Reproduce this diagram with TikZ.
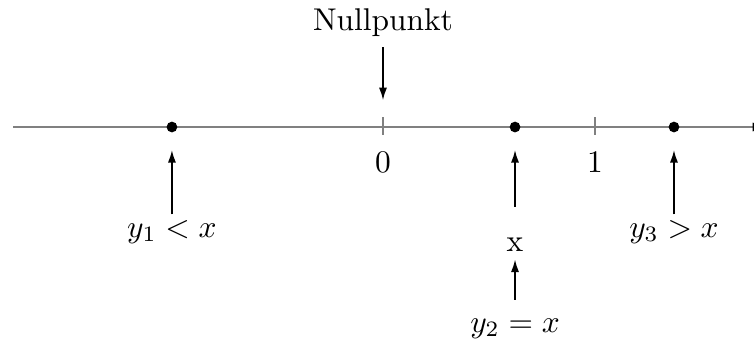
\documentclass[tikz,border=0pt]{standalone}
\usepackage{amsmath}
\usetikzlibrary{arrows.meta,positioning}

\begin{document}
\begin{tikzpicture}[>=Latex,
  axis/.style={draw=black!50,line width=0.6pt},
  ptr/.style={-{Latex[length=1.4mm,width=0.9mm]},line width=0.5pt},
  pt/.style={circle,fill=black,inner sep=0pt,minimum size=0.12cm}]
\useasboundingbox (-4.279,1.419) rectangle (4.145,-2.458);
% number line
\draw[axis,-{Latex[length=2mm,width=1mm,black]}] (-4.13,0) -- (4.33,0);
\draw[axis] (0,0.11) -- (0,-0.09);
\draw[axis] (2.369,0.11) -- (2.369,-0.09);
\coordinate (t0) at (0,0);
\node (n0) at (0,-0.40) {$0$};
\node (n1) at (2.369,-0.40) {$1$};
% points
\node[pt] (d1) at (-2.358,0) {};
\node[pt] (d2) at (1.475,0) {};
\node[pt] (d3) at (3.251,0) {};
% labels
\node (np) at (0,1.17) {Nullpunkt};
\node (l1) at (-2.358,-1.17) {$y_1 < x$};
\node (lx) at (1.475,-1.31) {x};
\node (l2) at (1.475,-2.25) {$y_2 = x$};
\node (l3) at (3.251,-1.17) {$y_3 > x$};
% pointers
\draw[ptr,shorten >=0.3cm] (np) -- (t0);
\draw[ptr,shorten <=-0.06cm,shorten >=0.19cm] (l1) -- (d1);
\draw[ptr,shorten <=0.22cm,shorten >=0.19cm] (lx) -- (d2);
\draw[ptr,shorten <=0.085cm,shorten >=-0.03cm] (l2) -- (lx);
\draw[ptr,shorten <=-0.06cm,shorten >=0.19cm] (l3) -- (d3);
\end{tikzpicture}
\end{document}
